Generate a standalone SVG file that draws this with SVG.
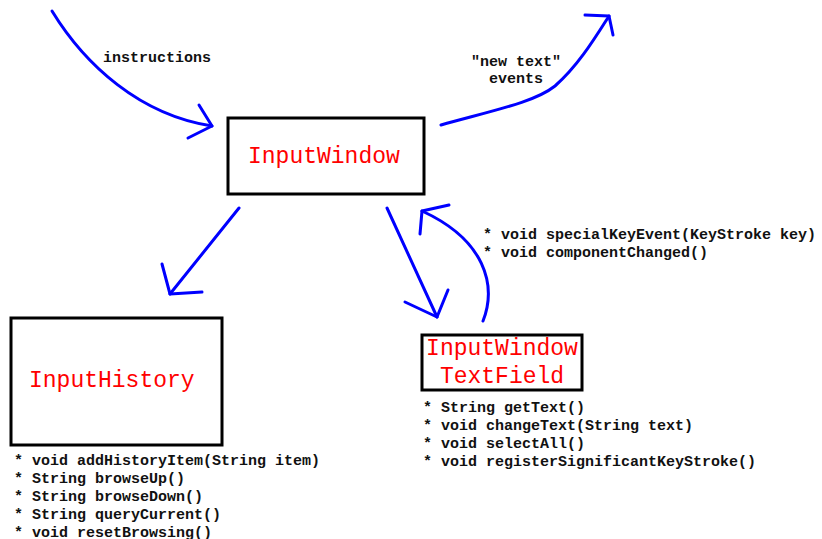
<svg xmlns="http://www.w3.org/2000/svg" width="822" height="539" viewBox="0 0 822 539">
  <style>
    .box { fill: #fff; stroke: #000; stroke-width: 3; }
    .name { font-family: "Liberation Mono", "Courier New", monospace; font-size: 23px; fill: #ff0000; }
    .txt { font-family: "Liberation Mono", "Courier New", monospace; font-size: 15px; font-weight: bold; fill: #111; }
    .arr { fill: none; stroke: #0000ff; stroke-width: 3; stroke-linecap: round; stroke-linejoin: round; }
  </style>
  <rect width="822" height="539" fill="#fff"/>

  <g id="connectors">
    <!-- instructions into InputWindow -->
    <path class="arr" d="M52,11 C85,65 140,115 212,126"/>
    <path class="arr" d="M199,105 L212,126 L188,138"/>
    <!-- "new text" events out of InputWindow -->
    <path class="arr" d="M441,125 C495,110 535,102 555,86 C578,66 595,38 609,16"/>
    <path class="arr" d="M585,15 L609,16 L613,35"/>
    <!-- InputWindow to InputHistory -->
    <path class="arr" d="M239,208 L170,294"/>
    <path class="arr" d="M162,264 L170,294 L202,292"/>
    <!-- InputWindow to TextField -->
    <path class="arr" d="M387,208 L437,317"/>
    <path class="arr" d="M405,302 L437,317 L448,290"/>
    <!-- TextField back to InputWindow -->
    <path class="arr" d="M483,321 C497,285 485,240 422,211"/>
    <path class="arr" d="M420,234 L422,211 L449,205"/>
  </g>

  <g id="labels">
    <text class="txt" x="103" y="62">instructions</text>
    <text class="txt" x="471" y="66">"new text"</text>
    <text class="txt" x="489" y="83">events</text>
    <text class="txt" x="483" y="239">* void specialKeyEvent(KeyStroke key)</text>
    <text class="txt" x="483" y="257">* void componentChanged()</text>
  </g>

  <g id="input-window">
    <rect class="box" x="228" y="118" width="196" height="76"/>
    <text class="name" x="248" y="163">InputWindow</text>
  </g>

  <g id="input-history">
    <rect class="box" x="11" y="318" width="211" height="127"/>
    <text class="name" x="29" y="387">InputHistory</text>
    <text class="txt" x="14" y="465">* void addHistoryItem(String item)</text>
    <text class="txt" x="14" y="483">* String browseUp()</text>
    <text class="txt" x="14" y="501">* String browseDown()</text>
    <text class="txt" x="14" y="519">* String queryCurrent()</text>
    <text class="txt" x="14" y="537">* void resetBrowsing()</text>
  </g>

  <g id="input-window-text-field">
    <rect class="box" x="422" y="335" width="160" height="55"/>
    <text class="name" x="502" y="355" text-anchor="middle">InputWindow</text>
    <text class="name" x="502" y="383" text-anchor="middle">TextField</text>
    <text class="txt" x="423" y="412">* String getText()</text>
    <text class="txt" x="423" y="430">* void changeText(String text)</text>
    <text class="txt" x="423" y="448">* void selectAll()</text>
    <text class="txt" x="423" y="466">* void registerSignificantKeyStroke()</text>
  </g>
</svg>
